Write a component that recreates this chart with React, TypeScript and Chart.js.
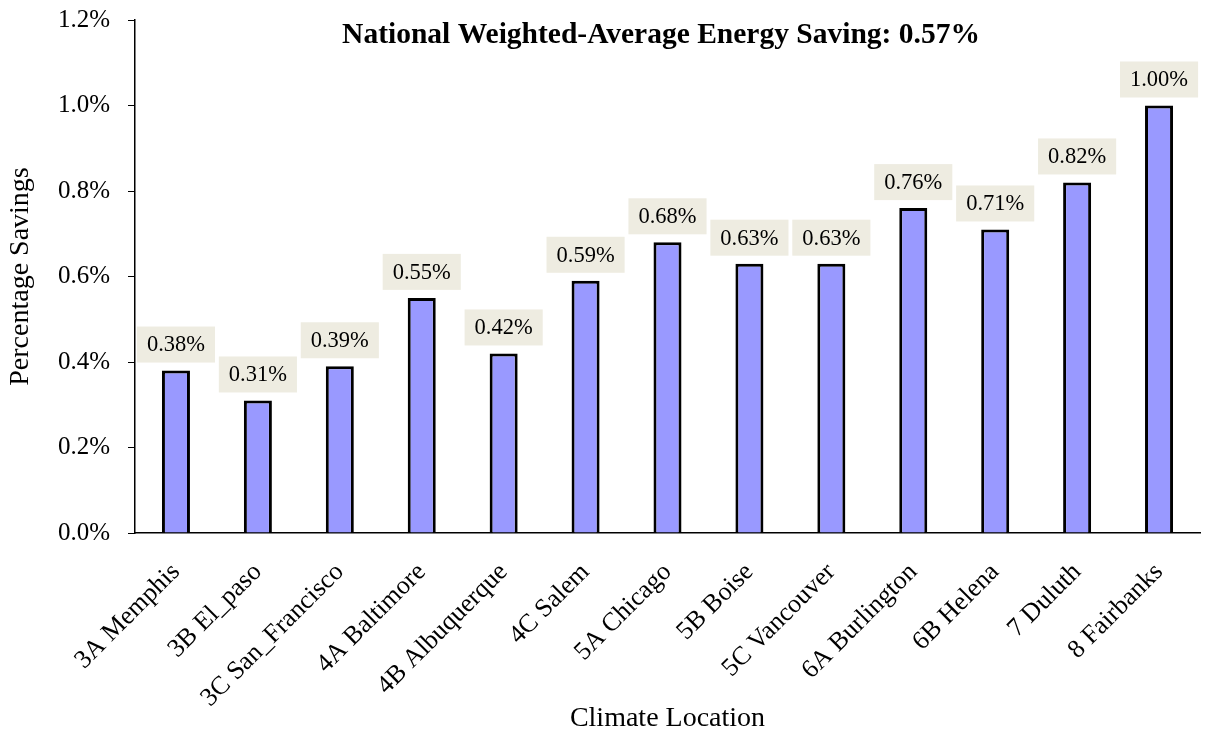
import React, { useEffect, useRef } from "react";
import { Chart, registerables } from "chart.js";

Chart.register(...registerables);

// Climate locations and their percentage savings (in %)
const categories = [
  "3A Memphis",
  "3B El_paso",
  "3C San_Francisco",
  "4A Baltimore",
  "4B Albuquerque",
  "4C Salem",
  "5A Chicago",
  "5B Boise",
  "5C Vancouver",
  "6A Burlington",
  "6B Helena",
  "7 Duluth",
  "8 Fairbanks",
];
const savings = [0.38, 0.31, 0.39, 0.55, 0.42, 0.59, 0.68, 0.63, 0.63, 0.76, 0.71, 0.82, 1.0];

const yMin = 0;
const yMax = 1.2;
const yStep = 0.2;

const titleText = "National Weighted-Average Energy Saving: 0.57%";
const xTitle = "Climate Location";
const yTitle = "Percentage Savings";

const FONT = "'Liberation Serif', 'Times New Roman', serif";

// Beige value boxes above each bar
const valueLabels = {
  id: "valueLabels",
  afterDatasetsDraw(chart: any) {
    const ctx = chart.ctx;
    const meta = chart.getDatasetMeta(0);
    ctx.save();
    ctx.font = `22.5px ${FONT}`;
    ctx.textAlign = "center";
    ctx.textBaseline = "middle";
    meta.data.forEach((bar: any, i: number) => {
      const text = savings[i].toFixed(2) + "%";
      const w = ctx.measureText(text).width + 20;
      const h = 36;
      const x = bar.x;
      const bottom = bar.y - 8;
      ctx.fillStyle = "#EEECE1";
      ctx.fillRect(x - w / 2, bottom - h, w, h);
      ctx.fillStyle = "#000";
      ctx.fillText(text, x, bottom - h / 2 + 1);
    });
    ctx.restore();
  },
};

// Bold headline inside the top of the plot area
const headline = {
  id: "headline",
  afterDraw(chart: any) {
    const { ctx } = chart;
    ctx.save();
    ctx.font = `bold 29.5px ${FONT}`;
    ctx.fillStyle = "#000";
    ctx.textAlign = "center";
    ctx.textBaseline = "alphabetic";
    ctx.fillText(titleText, 661, 43);
    ctx.restore();
  },
};

export default function App() {
  const canvasRef = useRef<HTMLCanvasElement | null>(null);

  useEffect(() => {
    if (!canvasRef.current) return;
    const chart = new Chart(canvasRef.current, {
      type: "bar",
      data: {
        labels: categories,
        datasets: [
          {
            data: savings,
            backgroundColor: "#9999FF",
            borderColor: "#000000",
            borderWidth: 3,
            barPercentage: 0.342,
            categoryPercentage: 1,
          },
        ],
      },
      options: {
        responsive: false,
        animation: false,
        layout: { padding: { top: 20, right: 6, left: 0, bottom: 0 } },
        plugins: {
          legend: { display: false },
          tooltip: { enabled: false },
        },
        scales: {
          x: {
            grid: { display: false },
            border: { display: true, color: "#000", width: 1.5 },
            ticks: {
              color: "#000",
              font: { family: FONT, size: 26 },
              minRotation: 45,
              maxRotation: 45,
              autoSkip: false,
              padding: 16,
            },
            title: {
              display: true,
              text: xTitle,
              color: "#000",
              font: { family: FONT, size: 28 },
              padding: { top: 0, bottom: 1 },
            },
            afterFit(scale: any) {
              scale.height = 203;
              scale.paddingLeft = 0;
              scale.paddingRight = 0;
            },
          },
          y: {
            min: yMin,
            max: yMax,
            grid: {
              drawOnChartArea: false,
              drawTicks: true,
              tickLength: 7,
              color: "#000",
              lineWidth: 1,
            },
            border: { display: true, color: "#000", width: 1.5 },
            ticks: {
              stepSize: yStep,
              color: "#000",
              font: { family: FONT, size: 25 },
              padding: 18,
              callback: (v: any) => Number(v).toFixed(1) + "%",
            },
            title: {
              display: true,
              text: yTitle,
              color: "#000",
              font: { family: FONT, size: 28 },
              padding: { top: 4, bottom: 0 },
            },
            afterFit(scale: any) {
              scale.width = 135;
              scale.paddingTop = 0;
              scale.paddingBottom = 0;
            },
          },
        },
      },
      plugins: [valueLabels, headline],
    });
    return () => chart.destroy();
  }, []);

  return (
    <div style={{ position: "fixed", left: 0, top: 0, width: 1206, height: 736, background: "#fff" }}>
      <canvas ref={canvasRef} width={1206} height={736} />
    </div>
  );
}
